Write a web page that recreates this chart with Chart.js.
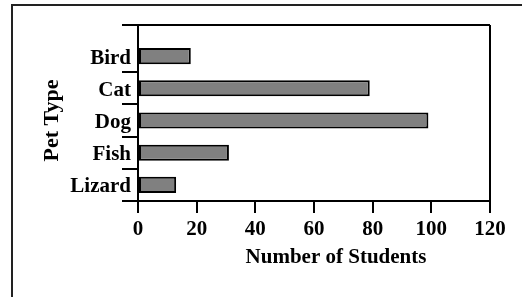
<!DOCTYPE html>
<html>
<head>
<meta charset="utf-8">
<script src="https://cdn.jsdelivr.net/npm/chart.js@4/dist/chart.umd.min.js"></script>
<style>
  html, body { margin: 0; padding: 0; background: #fff; overflow: hidden; }
  .frame {
    position: absolute; left: 11px; top: 4px;
    width: 600px; height: 400px;
    border: 2px solid #222;
  }
  .wrap { position: absolute; left: 0; top: 0; width: 522px; height: 297px; }
</style>
</head>
<body>
<div class="frame"></div>
<div class="wrap"><canvas id="myChart"></canvas></div>
<script>
const categories = ["Bird", "Cat", "Dog", "Fish", "Lizard"];
const students = [18, 79, 99, 31, 13];
const xTicks = [0, 20, 40, 60, 80, 100, 120];
const xTitle = "Number of Students";
const yTitle = "Pet Type";

const serif = "'Liberation Serif', 'Times New Roman', serif";

// box lines above the bars and the x title, which sits right of centre
const framePlugin = {
  id: "frame",
  afterDraw(chart) {
    const { ctx, chartArea: a } = chart;
    const top = a.top - 15;
    ctx.save();
    ctx.strokeStyle = "#000";
    ctx.lineWidth = 2;
    ctx.beginPath();
    ctx.moveTo(a.left - 16, top);
    ctx.lineTo(a.right, top);
    ctx.moveTo(a.right, top);
    ctx.lineTo(a.right, a.bottom);
    ctx.moveTo(a.left, top);
    ctx.lineTo(a.left, a.top);
    ctx.stroke();

    ctx.fillStyle = "#000";
    ctx.font = "bold 21px " + serif;
    ctx.textAlign = "center";
    ctx.textBaseline = "middle";
    ctx.fillText(xTitle, (a.left + a.right) / 2 + 22, a.bottom + 57);
    ctx.restore();
  },
};

const data = {
  labels: categories,
  datasets: [
    {
      label: xTitle,
      data: students,
      backgroundColor: "#808080",
      borderColor: "#000000",
      borderWidth: 2,
      borderSkipped: false,
      categoryPercentage: 0.5,
      barPercentage: 1,
    },
  ],
};

const config = {
  type: "bar",
  data: data,
  options: {
    indexAxis: "y",
    responsive: true,
    maintainAspectRatio: false,
    animation: false,
    layout: {
      padding: { left: 0, top: 40, right: 32, bottom: 0 },
    },
    plugins: {
      legend: { display: false },
      tooltip: { enabled: false },
    },
    scales: {
      x: {
        min: 0,
        max: 120,
        afterFit: (s) => { s.height = 96; },
        afterBuildTicks: (s) => { s.ticks = xTicks.map((v) => ({ value: v })); },
        border: { display: true, color: "#000", width: 2 },
        grid: {
          drawOnChartArea: false,
          drawTicks: true,
          tickLength: 12,
          color: "#000",
          lineWidth: 2,
        },
        ticks: {
          color: "#000",
          padding: 4,
          maxRotation: 0,
          font: { family: serif, size: 21, weight: "bold" },
        },
      },
      y: {
        afterFit: (s) => { s.width = 138; },
        border: { display: true, color: "#000", width: 2 },
        grid: {
          offset: true,
          drawOnChartArea: false,
          drawTicks: true,
          tickLength: 16,
          lineWidth: 2,
          color: (c) => (c.index === 0 ? "rgba(0,0,0,0)" : "#000"),
        },
        ticks: {
          color: "#000",
          padding: -9,
          labelOffset: 2,
          font: { family: serif, size: 21, weight: "bold" },
        },
        title: {
          display: true,
          text: yTitle,
          color: "#000",
          padding: { top: 39, bottom: 0 },
          font: { family: serif, size: 22, weight: "bold" },
        },
      },
    },
  },
  plugins: [framePlugin],
};

const myChart = new Chart(document.getElementById("myChart"), config);
</script>
</body>
</html>
